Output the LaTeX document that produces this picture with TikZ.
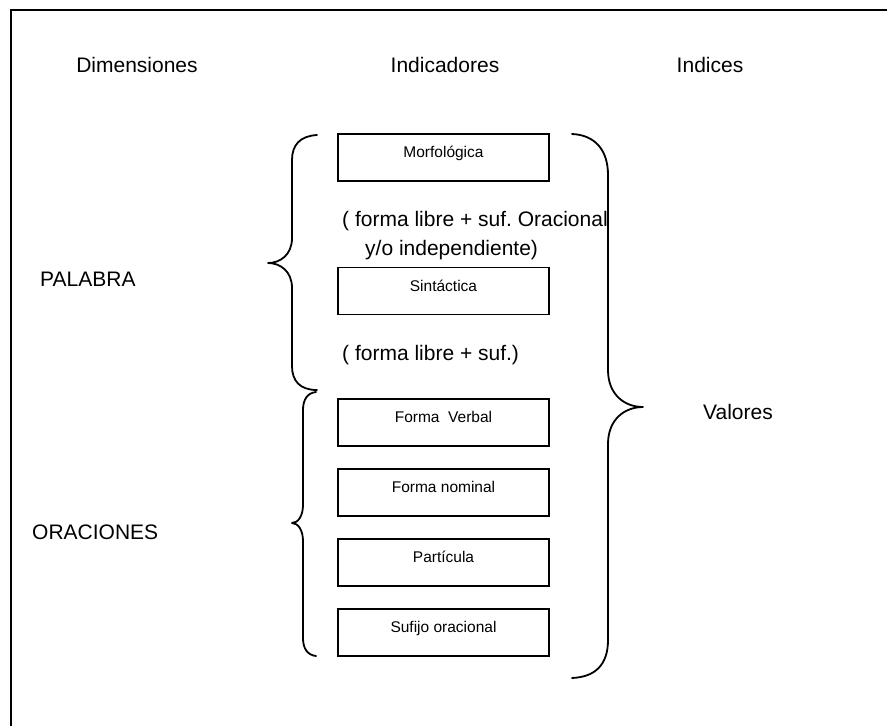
\documentclass[tikz,border=0pt]{standalone}
\usepackage{fontspec}
\setmainfont{Liberation Sans}
\frenchspacing
\begin{document}
\begin{tikzpicture}[x=1pt,y=-1pt,
  big/.style={font=\fontsize{21}{25}\selectfont, inner sep=0pt},
  small/.style={font=\fontsize{15.5}{18}\selectfont, inner sep=0pt},
  indbox/.style={draw, line width=1.8pt, minimum width=211pt, minimum height=47pt, inner sep=0pt},
  brace/.style={line width=1.8pt, line cap=round, line join=round},
  frame/.style={line width=2.4pt}]
\useasboundingbox (0,0) rectangle (887,726);

% outer frame (open to the right and bottom)
\draw[frame] (11,726) -- (11,10) -- (887,10);

% column headings
\node[big, anchor=base] (hdim) at (137,72) {Dimensiones};
\node[big, anchor=base] (hind) at (445,72) {Indicadores};
\node[big, anchor=base] (hidx) at (710,72) {Indices};

% dimensions
\node[big, anchor=base west] (palabra) at (40,286) {PALABRA};
\node[big, anchor=base west] (oraciones) at (32,539) {ORACIONES};
\node[big, anchor=base west] (valores) at (703,419) {Valores};

% indicator boxes
\node[indbox] (morf) at (443.5,157.5) {};
\node[indbox] (sint) at (443.5,291) {};
\node[indbox] (verb) at (443.5,422.5) {};
\node[indbox] (nomi) at (443.5,492.5) {};
\node[indbox] (part) at (443.5,562.5) {};
\node[indbox] (sufi) at (443.5,632.5) {};

\node[small, anchor=base] (tmorf) at ([yshift=-24.5pt]morf.north) {Morfológica};
\node[small, anchor=base] (tsint) at ([yshift=-24.5pt]sint.north) {Sintáctica};
\node[small, anchor=base] (tverb) at ([yshift=-24.5pt]verb.north) {Forma\ \ Verbal};
\node[small, anchor=base] (tnomi) at ([yshift=-24.5pt]nomi.north) {Forma nominal};
\node[small, anchor=base] (tpart) at ([yshift=-24.5pt]part.north) {Partícula};
\node[small, anchor=base] (tsufi) at ([yshift=-24.5pt]sufi.north) {Sufijo oracional};

% notes between boxes
\node[big, anchor=base west] (nota1a) at (342,226) {( forma libre + suf. Oracional};
\node[big, anchor=base west] (nota1b) at (365,255) {y/o independiente)};
\node[big, anchor=base west] (nota2) at (342,360) {( forma libre + suf.)};

% brace for PALABRA
\draw[brace] (317,135) .. controls (300,136) and (292,145) .. (292,160)
  -- (292,238) .. controls (292,255) and (280,263) .. (268,263)
  .. controls (280,263) and (292,271) .. (292,288)
  -- (292,366) .. controls (292,381) and (300,390) .. (317,390);

% brace for ORACIONES
\draw[brace] (316,392) .. controls (307,393) and (303,400) .. (303,410)
  -- (303,505) .. controls (303,516) and (298,523) .. (292,523)
  .. controls (298,523) and (303,530) .. (303,541)
  -- (303,638) .. controls (303,648) and (307,655) .. (316,656);

% brace towards Valores
\draw[brace] (572,134) .. controls (595,135) and (608,150) .. (608,175)
  -- (608,370) .. controls (608,395) and (625,407) .. (643,407)
  .. controls (625,407) and (608,419) .. (608,444)
  -- (608,640) .. controls (608,665) and (595,677) .. (572,678);
\end{tikzpicture}
\end{document}
